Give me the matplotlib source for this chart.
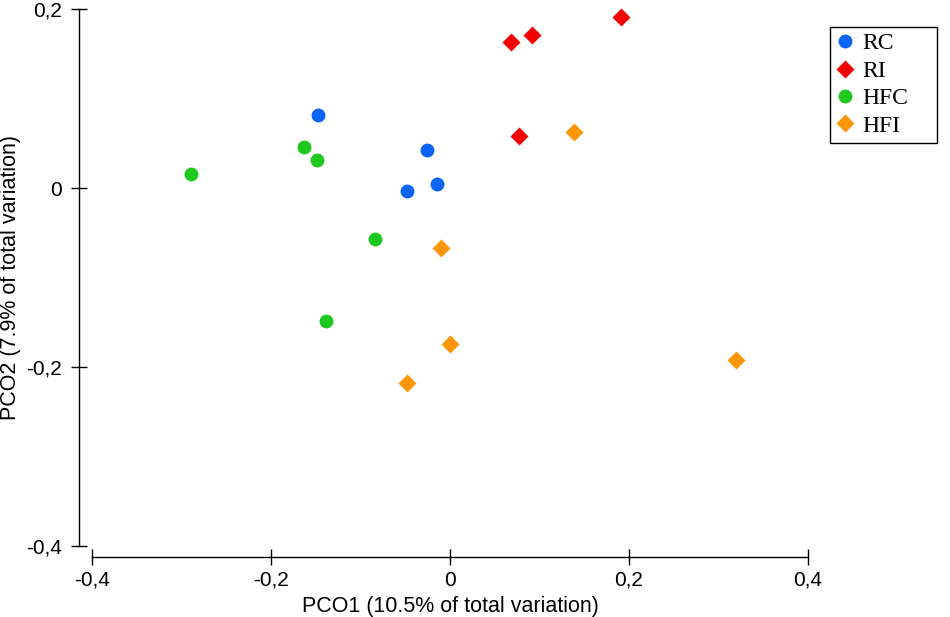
import matplotlib
matplotlib.use("Agg")
import matplotlib.pyplot as plt
from matplotlib.ticker import FuncFormatter

# PCO scores
rc_x = [-0.148, -0.026, -0.048, -0.015]
rc_y = [0.082, 0.043, -0.003, 0.005]
ri_x = [0.068, 0.092, 0.191, 0.077]
ri_y = [0.163, 0.171, 0.191, 0.058]
hfc_x = [-0.289, -0.163, -0.149, -0.084, -0.139]
hfc_y = [0.016, 0.046, 0.031, -0.057, -0.149]
hfi_x = [0.139, -0.010, 0.000, -0.048, 0.320]
hfi_y = [0.063, -0.067, -0.174, -0.218, -0.192]

grupos = ["RC", "RI", "HFC", "HFI"]
ticks_x = [-0.4, -0.2, 0, 0.2, 0.4]
ticks_y = [-0.4, -0.2, 0, 0.2]

plt.rcParams['font.family'] = ['Liberation Sans', 'DejaVu Sans']

fig = plt.figure(figsize=(9.5, 6.17), dpi=100)
ax = fig.add_axes([92 / 950, 71 / 617, 716 / 950, 537 / 617])

ms_c = 10.0
ms_d = 8.8
ax.plot(rc_x, rc_y, 'o', ms=ms_c, color='#0a64f5', mec='none', clip_on=False, label=grupos[0])
ax.plot(ri_x, ri_y, 'D', ms=ms_d, color='#f50000', mec='none', clip_on=False, label=grupos[1])
ax.plot(hfc_x, hfc_y, 'o', ms=ms_c, color='#1ec81e', mec='none', clip_on=False, label=grupos[2])
ax.plot(hfi_x, hfi_y, 'D', ms=ms_d, color='#ff960a', mec='none', clip_on=False, label=grupos[3])

ax.set_xlim(-0.4, 0.4)
ax.set_ylim(-0.4, 0.2)
ax.set_xticks(ticks_x)
ax.set_yticks(ticks_y)
coma = FuncFormatter(lambda v, p: "0" if abs(v) < 1e-9 else f"{v:.1f}".replace(".", ","))
ax.xaxis.set_major_formatter(coma)
ax.yaxis.set_major_formatter(coma)

for lado in ['top', 'right']:
    ax.spines[lado].set_visible(False)
ax.spines['left'].set_position(('outward', 9.4))
ax.spines['bottom'].set_position(('outward', 7.9))
ax.spines['left'].set_linewidth(1.0)
ax.spines['bottom'].set_linewidth(1.0)
ax.tick_params(axis='y', direction='inout', length=12, width=1.0, pad=6, labelsize=15)
ax.tick_params(axis='x', direction='inout', length=12, width=1.0, pad=4, labelsize=15)

ax.set_xlabel("PCO1 (10.5% of total variation)", fontsize=15.5, va='center')
ax.xaxis.set_label_coords(0.5, -0.112)
ax.set_ylabel("PCO2 (7.9% of total variation)", fontsize=15.5, va='center')
ax.yaxis.set_label_coords(-0.1145, 0.5)

leg = fig.legend(loc='upper left', bbox_to_anchor=(830 / 950, 1 - 140 / 617, 107 / 950, 113 / 617),
                 mode='expand', borderaxespad=0, fancybox=False, framealpha=1, edgecolor='black',
                 prop={'family': 'Liberation Serif', 'size': 17}, handlelength=0.8,
                 handletextpad=0.3, borderpad=0.25, labelspacing=0.25)
leg.get_frame().set_linewidth(1.0)

fig.savefig("out.png", dpi=100)
